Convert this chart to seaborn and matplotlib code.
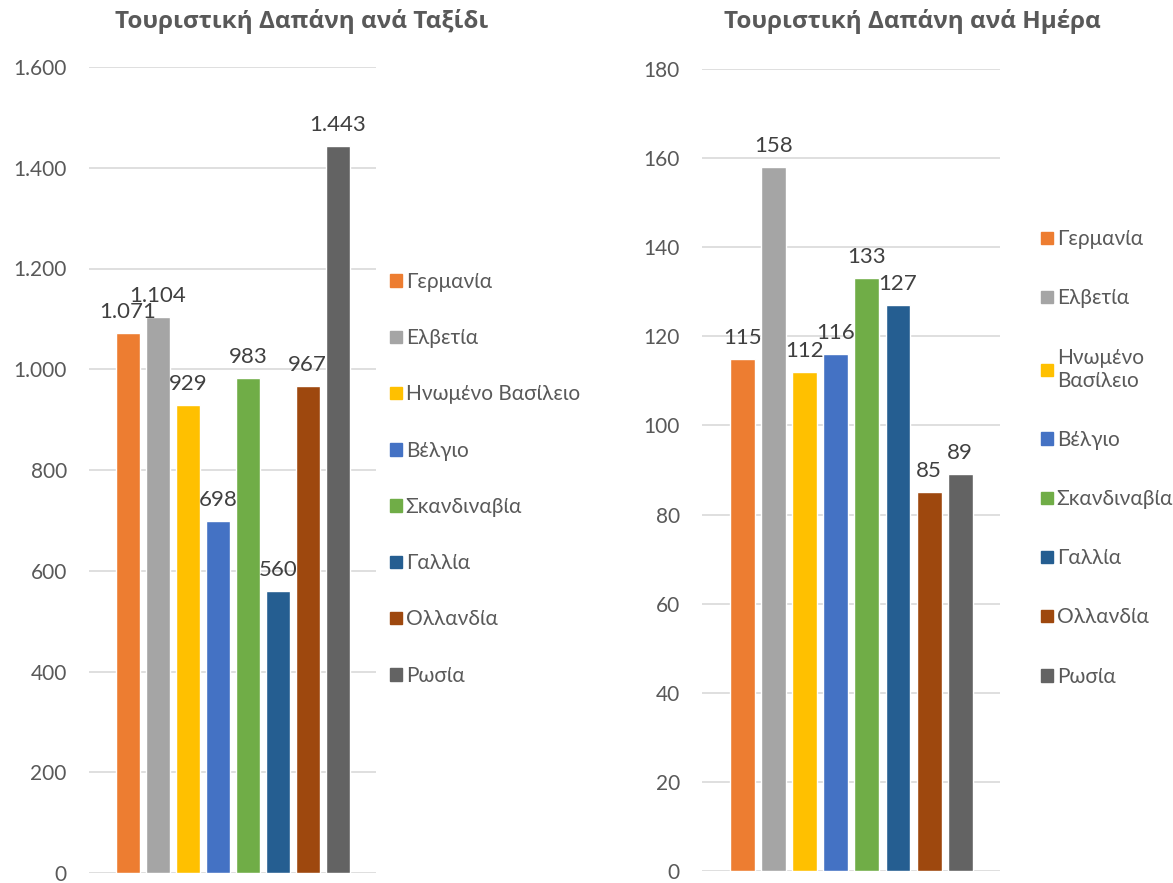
import matplotlib
matplotlib.use('Agg')
import matplotlib.pyplot as plt
import seaborn as sns
from matplotlib.ticker import FuncFormatter

# 数据
countries = ['Γερμανία', 'Ελβετία', 'Ηνωμένο Βασίλειο', 'Βέλγιο',
             'Σκανδιναβία', 'Γαλλία', 'Ολλανδία', 'Ρωσία']
trip_spend = [1071, 1104, 929, 698, 983, 560, 967, 1443]
day_spend = [115, 158, 112, 116, 133, 127, 85, 89]
colors = ['#ED7D31', '#A5A5A5', '#FFC000', '#4472C4',
          '#70AD47', '#255E91', '#9E480E', '#636363']
trip_title = 'Τουριστική Δαπάνη ανά Ταξίδι'
day_title = 'Τουριστική Δαπάνη ανά Ημέρα'
trip_ticks = [0, 200, 400, 600, 800, 1000, 1200, 1400, 1600]
day_ticks = [0, 20, 40, 60, 80, 100, 120, 140, 160, 180]

sns.set_theme(style='white')
plt.rcParams['font.family'] = ['Lato', 'DejaVu Sans']

text_col = '#595959'
grid_col = '#D9D9D9'


def greek_num(v, pos=None):
    # 千位分隔符用点
    return f'{int(v):,}'.replace(',', '.')


def draw(ax, values, ticks, legend_labels, labelspacing, leg_x, leg_y):
    sns.barplot(x=countries, y=values, hue=countries, palette=colors,
                width=0.8, legend=False, ax=ax, saturation=1)
    ax.set_ylim(ticks[0], ticks[-1])
    ax.set_yticks(ticks)
    ax.yaxis.set_major_formatter(FuncFormatter(greek_num))
    ax.set_xlim(-1.3, 8.28)
    ax.set_xticks([])
    ax.set_xlabel('')
    ax.set_ylabel('')
    ax.grid(axis='y', color=grid_col, linewidth=1.2)
    ax.set_axisbelow(True)
    for s in ax.spines.values():
        s.set_visible(False)
    ax.tick_params(axis='y', length=0, labelsize=15, labelcolor=text_col, pad=16)
    for cont, v in zip(ax.containers, values):
        ax.bar_label(cont, labels=[greek_num(v)], padding=8, fontsize=16, color='#404040')
    handles = [plt.Rectangle((0, 0), 1, 1, color=c) for c in colors]
    leg = ax.legend(handles, legend_labels, loc='center left',
                    bbox_to_anchor=(leg_x, leg_y), frameon=False,
                    fontsize=15, labelcolor=text_col,
                    handlelength=0.55, handleheight=0.55, handletextpad=0.2,
                    labelspacing=labelspacing, borderaxespad=0)
    return leg


fig = plt.figure(figsize=(11.73, 8.83), dpi=100)
ax1 = fig.add_axes([89 / 1173, 1 - 873 / 883, 287 / 1173, (873 - 67) / 883])
ax2 = fig.add_axes([702 / 1173, 1 - 871 / 883, 298 / 1173, (871 - 69) / 883])

draw(ax1, trip_spend, trip_ticks, countries, 1.74, 1.02, 0.489)
day_labels = [c.replace(' ', '\n') for c in countries]
draw(ax2, day_spend, day_ticks, day_labels, 1.88, 1.11, 0.515)

fig.text(302 / 1173, 1 - 22 / 883, trip_title, ha='center', va='center',
         fontsize=17.5, fontweight='bold', color=text_col,
         family=['Open Sans', 'DejaVu Sans'])
fig.text(912 / 1173, 1 - 22 / 883, day_title, ha='center', va='center',
         fontsize=17.5, fontweight='bold', color=text_col,
         family=['Open Sans', 'DejaVu Sans'])

plt.savefig('out.png', dpi=100)
plt.close()
